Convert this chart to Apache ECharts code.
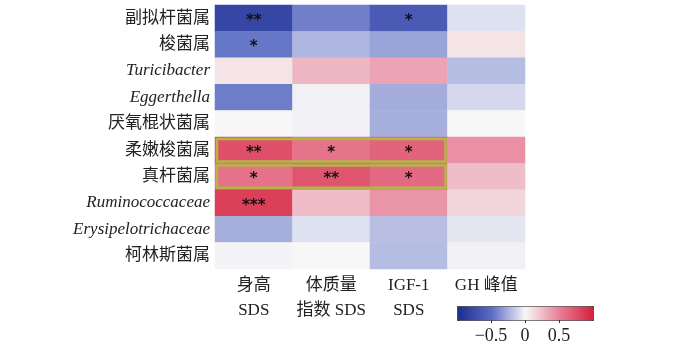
<!DOCTYPE html>
<html>
<head>
<meta charset="utf-8">
<script src="https://cdn.jsdelivr.net/npm/echarts@6/dist/echarts.min.js"></script>
<style>
  html, body { margin: 0; padding: 0; background: #fff; }
  #chart { width: 679px; height: 351px; }
</style>
</head>
<body>
<div id="chart"></div>
<script>
// 行：菌属（从上到下）
const taxa = [
  '副拟杆菌属', '梭菌属', '{it|Turicibacter}', '{it|Eggerthella}', '厌氧棍状菌属',
  '柔嫩梭菌属', '真杆菌属', '{it|Ruminococcaceae}', '{it|Erysipelotrichaceae}', '柯林斯菌属'
]
// 列：指标
const metrics = ['身高\nSDS', '体质量\n指数 SDS', 'IGF-1\nSDS', 'GH 峰值']

// 相关系数，每行对应 taxa，每列对应 metrics
const corr = [
  [-0.80, -0.43, -0.64, -0.08],
  [-0.46, -0.23, -0.30, 0.08],
  [0.08, 0.27, 0.35, -0.21],
  [-0.44, -0.02, -0.27, -0.11],
  [0.00, -0.02, -0.26, 0.00],
  [0.75, 0.56, 0.64, 0.43],
  [0.57, 0.72, 0.61, 0.24],
  [0.83, 0.24, 0.41, 0.14],
  [-0.26, -0.08, -0.20, -0.06],
  [-0.01, 0.00, -0.21, -0.02]
]
// 显著性标记
const stars = [
  ['**', '', '*', ''],
  ['*', '', '', ''],
  ['', '', '', ''],
  ['', '', '', ''],
  ['', '', '', ''],
  ['**', '*', '*', ''],
  ['*', '**', '*', ''],
  ['***', '', '', ''],
  ['', '', '', ''],
  ['', '', '', '']
]
// 高亮的行（前三列框出）
const boxedRows = [5, 6]
const colorTicks = [-0.5, 0, 0.5]

const heatData = []
corr.forEach((row, r) => {
  row.forEach((v, c) => heatData.push([c, r, v]))
})

const font = "'Liberation Serif', 'Noto Sans CJK SC', serif"
const chart = echarts.init(document.getElementById('chart'))

const option = {
  backgroundColor: '#fff',
  animation: false,
  grid: [
    { left: 215, top: 5, width: 310, height: 264 },
    { left: 457, top: 306, width: 136, height: 14 }
  ],
  xAxis: [
    {
      type: 'category',
      data: metrics,
      gridIndex: 0,
      axisLine: { show: false },
      axisTick: { show: false },
      axisLabel: {
        interval: 0,
        margin: 4,
        fontSize: 17,
        lineHeight: 25,
        color: '#222',
        fontFamily: font,
        verticalAlign: 'top'
      }
    },
    {
      type: 'value',
      gridIndex: 1,
      min: -1,
      max: 1,
      interval: 0.5,
      z: 10,
      splitLine: { show: false },
      axisLine: { show: false },
      axisTick: { show: true, length: 3, lineStyle: { color: '#333' } },
      axisLabel: {
        showMinLabel: false,
        showMaxLabel: false,
        margin: 7,
        fontSize: 18,
        color: '#222',
        fontFamily: font,
        formatter: v => (colorTicks.includes(v) ? String(v).replace('-', '\u2212') : '')
      }
    }
  ],
  yAxis: [
    {
      type: 'category',
      data: taxa,
      inverse: true,
      gridIndex: 0,
      axisLine: { show: false },
      axisTick: { show: false },
      axisLabel: {
        margin: 5,
        fontSize: 17,
        color: '#222',
        fontFamily: font,
        rich: {
          it: { fontStyle: 'italic', fontSize: 17, color: '#222', fontFamily: font }
        }
      }
    },
    { type: 'value', gridIndex: 1, show: false }
  ],
  visualMap: {
    type: 'continuous',
    seriesIndex: 0,
    min: -1,
    max: 1,
    orient: 'horizontal',
    left: 457,
    top: 306,
    itemWidth: 14,
    itemHeight: 136,
    padding: 0,
    calculable: false,
    hoverLink: false,
    showLabel: false,
    text: null,
    borderColor: '#333',
    borderWidth: 1,
    inRange: {
      color: ['#1d2c8e', '#5b6cc4', '#f7f7f7', '#e77f96', '#d6203a']
    }
  },
  series: [
    {
      type: 'heatmap',
      data: heatData,
      xAxisIndex: 0,
      yAxisIndex: 0,
      label: {
        show: true,
        color: '#111',
        fontSize: 15,
        fontWeight: 'bold',
        fontFamily: 'DejaVu Sans',
        offset: [0, 3],
        formatter: p => stars[p.value[1]][p.value[0]]
      },
      emphasis: { disabled: true }
    },
    {
      type: 'custom',
      xAxisIndex: 0,
      yAxisIndex: 0,
      data: boxedRows.map(r => [0, r]),
      silent: true,
      z: 5,
      renderItem: (params, api) => {
        const start = api.coord([0, api.value(1)])
        const end = api.coord([2, api.value(1)])
        const size = api.size([1, 1])
        return {
          type: 'rect',
          shape: {
            x: start[0] - size[0] / 2 + 2,
            y: start[1] - size[1] / 2 + 2,
            width: end[0] - start[0] + size[0] - 4,
            height: size[1] - 4
          },
          style: { fill: 'none', stroke: '#b3b647', lineWidth: 2.5 }
        }
      }
    }
  ]
}

chart.setOption(option)
</script>
</body>
</html>
